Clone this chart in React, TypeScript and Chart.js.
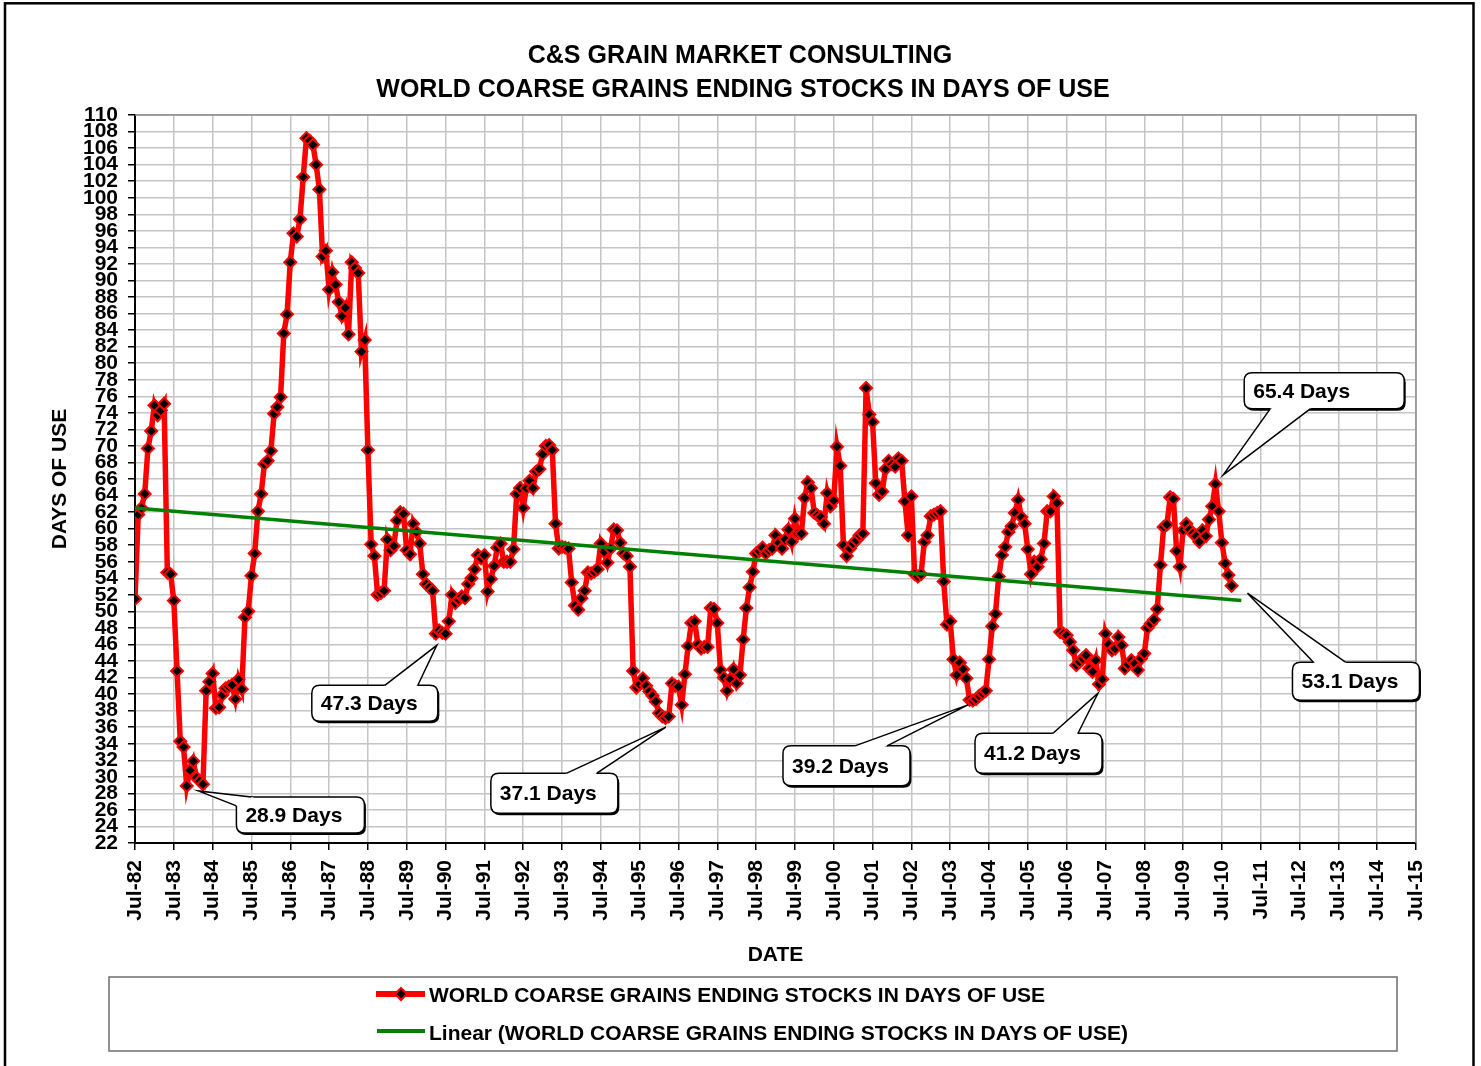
import React, { useEffect, useRef } from 'react';
import { Chart, registerables } from 'chart.js';

Chart.register(...registerables);

// ---------- text ----------
const TITLE_LINE_1 = 'C&S GRAIN MARKET CONSULTING';
const TITLE_LINE_2 = 'WORLD COARSE GRAINS ENDING STOCKS IN DAYS OF USE';
const SERIES_LABEL = 'WORLD COARSE GRAINS ENDING STOCKS IN DAYS OF USE';
const TREND_LABEL = 'Linear (WORLD COARSE GRAINS ENDING STOCKS IN DAYS OF USE)';
const Y_TITLE = 'DAYS OF USE';
const X_TITLE = 'DATE';

// ---------- axes ----------
const xTickLabels = [
  'Jul-82', 'Jul-83', 'Jul-84', 'Jul-85', 'Jul-86', 'Jul-87', 'Jul-88', 'Jul-89', 'Jul-90',
  'Jul-91', 'Jul-92', 'Jul-93', 'Jul-94', 'Jul-95', 'Jul-96', 'Jul-97', 'Jul-98', 'Jul-99',
  'Jul-00', 'Jul-01', 'Jul-02', 'Jul-03', 'Jul-04', 'Jul-05', 'Jul-06', 'Jul-07', 'Jul-08',
  'Jul-09', 'Jul-10', 'Jul-11', 'Jul-12', 'Jul-13', 'Jul-14', 'Jul-15',
];
const MONTHS_PER_TICK = 12;
const Y_MIN = 22;
const Y_MAX = 110;
const Y_STEP = 2;
const TREND_FORWARD_MONTHS = 3;

// ---------- monthly series (days of use), starting Jul-82 ----------
const daysJul82toJun85 = [
  51.5, 61.7, 62.5, 64.2, 69.7, 71.8, 74.9, 73.7, 74.3, 75.1, 54.7, 54.5,
  51.3, 42.8, 34.3, 33.6, 28.9, 30.8, 31.9, 29.9, 29.5, 29.1, 40.4, 41.5,
  42.5, 38.3, 38.4, 39.9, 40.7, 40.9, 41.1, 39.4, 41.8, 40.6, 49.3, 50.0,
];
const daysJul85toJun88 = [
  54.3, 57.0, 62.1, 64.2, 67.8, 68.2, 69.4, 73.9, 74.7, 75.9, 83.6, 85.9,
  92.2, 95.7, 95.3, 97.4, 102.5, 107.2, 106.9, 106.4, 104.0, 101.0, 92.9, 93.6,
  88.9, 91.0, 89.5, 87.4, 85.7, 86.7, 83.5, 92.2, 91.5, 90.9, 81.4, 82.8,
];
const daysJul88toJun91 = [
  69.5, 58.1, 56.7, 52.0, 52.2, 52.5, 58.7, 57.4, 57.9, 61.0, 62.0, 61.8,
  57.4, 56.9, 60.6, 59.6, 58.2, 54.5, 53.3, 52.9, 52.5, 47.3, 47.7, 47.4,
  47.3, 48.8, 52.0, 51.0, 51.4, 51.8, 51.6, 53.3, 54.0, 55.1, 56.8, 56.4,
];
const daysJul91toJun94 = [
  56.8, 52.4, 53.9, 55.5, 57.7, 58.2, 56.0, 56.0, 56.0, 57.5, 64.2, 64.9,
  62.5, 64.9, 65.8, 64.9, 66.9, 67.2, 69.0, 70.0, 70.1, 69.5, 60.6, 57.6,
  57.8, 57.7, 57.6, 53.5, 50.7, 50.2, 51.6, 52.5, 54.7, 54.6, 54.8, 55.1,
];
const daysJul94toJun97 = [
  58.2, 57.2, 55.9, 57.6, 59.9, 59.8, 58.3, 57.0, 56.7, 55.4, 42.8, 40.8,
  41.2, 41.9, 41.0, 40.3, 39.8, 39.1, 37.7, 37.3, 37.1, 37.3, 41.3, 41.0,
  40.9, 38.7, 42.4, 45.8, 48.6, 48.8, 46.0, 45.5, 45.7, 45.7, 50.4, 50.3,
];
const daysJul97toJun00 = [
  48.6, 42.9, 42.0, 40.4, 41.8, 43.0, 41.3, 42.3, 46.6, 50.4, 52.9, 54.8,
  57.0, 57.3, 57.7, 57.0, 57.4, 57.6, 59.2, 58.3, 57.6, 58.7, 59.9, 58.4,
  61.2, 59.4, 59.4, 63.7, 65.6, 64.9, 61.9, 61.6, 61.4, 60.6, 64.3, 62.7,
];
const daysJul00toJun03 = [
  63.4, 69.9, 67.6, 58.0, 56.7, 57.6, 58.2, 58.6, 59.2, 59.4, 77.0, 73.8,
  72.9, 65.5, 64.1, 64.5, 67.2, 68.2, 67.8, 67.5, 68.5, 68.2, 63.3, 59.2,
  63.9, 54.5, 54.2, 54.5, 58.4, 59.2, 61.5, 61.7, 61.9, 62.1, 53.6, 48.4,
];
const daysJul03toJun06 = [
  48.8, 44.2, 42.3, 43.8, 43.0, 41.9, 39.3, 39.2, 39.4, 39.8, 40.1, 40.4,
  44.2, 48.2, 49.7, 54.2, 56.8, 57.8, 59.6, 60.3, 61.9, 63.5, 61.4, 60.6,
  57.5, 54.5, 56.0, 55.4, 56.3, 58.2, 62.1, 62.1, 63.9, 63.1, 47.5, 47.3,
];
const daysJul06toJun09 = [
  47.1, 46.3, 45.3, 43.5, 43.9, 44.3, 44.7, 43.1, 42.7, 44.1, 41.2, 41.8,
  47.3, 46.0, 45.3, 45.5, 46.9, 45.9, 43.1, 43.6, 44.1, 43.7, 42.9, 44.3,
  44.9, 48.0, 48.5, 49.0, 50.3, 55.6, 60.2, 60.5, 63.8, 63.6, 57.3, 55.4,
];
const daysJul09toOct10 = [
  59.8, 60.6, 59.9, 59.4, 59.1, 58.4, 59.8, 59.1, 61.1, 62.7, 65.4, 62.1,
  58.3, 55.8, 54.4, 53.1,
];

// ---------- callouts: text + anchor (month index, value) ----------
const calloutTexts = ['28.9 Days', '47.3 Days', '37.1 Days', '39.2 Days', '41.2 Days', '65.4 Days', '53.1 Days'];
const calloutAnchorMonth = [19.6, 93.3, 164.1, 257.5, 297.7, 336.4, 343.9];
const calloutAnchorValue = [28.3, 45.9, 36.0, 38.7, 40.1, 66.5, 52.2];

// callout box geometry (pixels, relative to the anchor) — style only
const calloutGeom = [
  { dx: 38, dy: 6, w: 128, h: 36, b1: [0, 9], b2: [15, 0] },
  { dx: -125, dy: 40, w: 126, h: 36, b1: [73, 0], b2: [106, 0] },
  { dx: -175, dy: 46, w: 127, h: 40, b1: [76, 0], b2: [106, 0] },
  { dx: -185, dy: 41, w: 127, h: 40, b1: [72, 0], b2: [104, 0] },
  { dx: -123, dy: 40, w: 127, h: 40, b1: [78, 0], b2: [103, 0] },
  { dx: 21, dy: -102, w: 160, h: 36, b1: [26, 36], b2: [66, 36] },
  { dx: 45, dy: 69, w: 127, h: 38, b1: [21, 0], b2: [53, 0] },
];

const FONT = '"Liberation Sans", Arial, Helvetica, sans-serif';
const W = 1481;
const H = 1066;

function roundRectPath(ctx: CanvasRenderingContext2D, x: number, y: number, w: number, h: number, r: number) {
  ctx.beginPath();
  ctx.moveTo(x + r, y);
  ctx.lineTo(x + w - r, y);
  ctx.quadraticCurveTo(x + w, y, x + w, y + r);
  ctx.lineTo(x + w, y + h - r);
  ctx.quadraticCurveTo(x + w, y + h, x + w - r, y + h);
  ctx.lineTo(x + r, y + h);
  ctx.quadraticCurveTo(x, y + h, x, y + h - r);
  ctx.lineTo(x, y + r);
  ctx.quadraticCurveTo(x, y, x + r, y);
  ctx.closePath();
}

function drawCallout(ctx: CanvasRenderingContext2D, tipX: number, tipY: number, text: string, g: any) {
  const bx = tipX + g.dx;
  const by = tipY + g.dy;
  const r = 8;
  ctx.fillStyle = '#000';
  roundRectPath(ctx, bx + 1.5, by + 2, g.w, g.h, r);
  ctx.fill();
  ctx.fillStyle = '#fff';
  roundRectPath(ctx, bx, by, g.w, g.h, r);
  ctx.fill();
  ctx.strokeStyle = '#000';
  ctx.lineWidth = 1.5;
  ctx.stroke();
  const cx = bx + g.w / 2;
  const cy = by + g.h / 2;
  const p1 = [bx + g.b1[0], by + g.b1[1]];
  const p2 = [bx + g.b2[0], by + g.b2[1]];
  const inward = (p: number[]) => {
    const vx = cx - p[0];
    const vy = cy - p[1];
    const len = Math.hypot(vx, vy) || 1;
    return [p[0] + (vx / len) * 4, p[1] + (vy / len) * 4];
  };
  const p1i = inward(p1);
  const p2i = inward(p2);
  ctx.beginPath();
  ctx.moveTo(p1i[0], p1i[1]);
  ctx.lineTo(p1[0], p1[1]);
  ctx.lineTo(tipX, tipY);
  ctx.lineTo(p2[0], p2[1]);
  ctx.lineTo(p2i[0], p2i[1]);
  ctx.closePath();
  ctx.fillStyle = '#fff';
  ctx.fill();
  ctx.beginPath();
  ctx.moveTo(p1[0], p1[1]);
  ctx.lineTo(tipX, tipY);
  ctx.lineTo(p2[0], p2[1]);
  ctx.strokeStyle = '#000';
  ctx.lineWidth = 1.5;
  ctx.stroke();
  ctx.fillStyle = '#000';
  ctx.font = `bold 21px ${FONT}`;
  ctx.textAlign = 'left';
  ctx.textBaseline = 'middle';
  ctx.fillText(text, bx + 9, by + g.h / 2 + 1);
}

const overlayPlugin = {
  id: 'overlay',
  beforeDraw(chart: any) {
    const ctx = chart.ctx as CanvasRenderingContext2D;
    ctx.save();
    ctx.fillStyle = '#fff';
    ctx.fillRect(0, 0, chart.width, chart.height);
    ctx.restore();
  },
  beforeDatasetsDraw(chart: any) {
    const ctx = chart.ctx as CanvasRenderingContext2D;
    const { left, right, top, bottom } = chart.chartArea;
    ctx.save();
    ctx.strokeStyle = '#8c8c8c';
    ctx.lineWidth = 1.5;
    ctx.beginPath();
    ctx.moveTo(left, top);
    ctx.lineTo(right, top);
    ctx.lineTo(right, bottom);
    ctx.stroke();
    ctx.restore();
  },
  afterDraw(chart: any) {
    const ctx = chart.ctx as CanvasRenderingContext2D;
    const { left, right, top, bottom } = chart.chartArea;
    const xs = chart.scales.x;
    const ys = chart.scales.y;
    ctx.save();

    ctx.fillStyle = '#000';
    ctx.textAlign = 'center';
    ctx.textBaseline = 'alphabetic';
    ctx.font = `bold 25px ${FONT}`;
    ctx.fillText(TITLE_LINE_1, 740, 63);
    ctx.fillText(TITLE_LINE_2, 743, 96.5);

    ctx.font = `bold 21px ${FONT}`;
    ctx.fillText(X_TITLE, (left + right) / 2, 960.5);
    ctx.save();
    ctx.translate(60.5, (top + bottom) / 2);
    ctx.rotate(-Math.PI / 2);
    ctx.textBaseline = 'middle';
    ctx.fillText(Y_TITLE, 0, 0);
    ctx.restore();

    // legend
    ctx.strokeStyle = '#6e6e6e';
    ctx.lineWidth = 1.5;
    ctx.strokeRect(109, 977, 1288, 74);
    ctx.lineCap = 'butt';
    ctx.strokeStyle = '#ff0000';
    ctx.lineWidth = 6;
    ctx.beginPath();
    ctx.moveTo(376, 994);
    ctx.lineTo(425, 994);
    ctx.stroke();
    ctx.beginPath();
    ctx.moveTo(401 - 6, 994);
    ctx.lineTo(401, 994 - 6);
    ctx.lineTo(401 + 6, 994);
    ctx.lineTo(401, 994 + 6);
    ctx.closePath();
    ctx.fillStyle = '#000';
    ctx.fill();
    ctx.strokeStyle = '#ff0000';
    ctx.lineWidth = 2;
    ctx.stroke();
    ctx.strokeStyle = '#008000';
    ctx.lineWidth = 4;
    ctx.beginPath();
    ctx.moveTo(377, 1031);
    ctx.lineTo(425, 1031);
    ctx.stroke();
    ctx.fillStyle = '#000';
    ctx.textAlign = 'left';
    ctx.textBaseline = 'alphabetic';
    ctx.font = `bold 21px ${FONT}`;
    ctx.fillText(SERIES_LABEL, 429, 1002);
    ctx.fillText(TREND_LABEL, 429, 1039.5);

    for (let i = 0; i < calloutTexts.length; i++) {
      const tx = xs.getPixelForValue(calloutAnchorMonth[i]);
      const ty = ys.getPixelForValue(calloutAnchorValue[i]);
      drawCallout(ctx, tx, ty, calloutTexts[i], calloutGeom[i]);
    }

    ctx.strokeStyle = '#000';
    ctx.lineWidth = 2.5;
    ctx.strokeRect(5, 3.3, 1468.5, 1080);

    ctx.restore();
  },
};

export default function App() {
  const canvasRef = useRef<HTMLCanvasElement>(null);

  useEffect(() => {
    const canvas = canvasRef.current;
    if (!canvas) return;
    const values = [
      ...daysJul82toJun85, ...daysJul85toJun88, ...daysJul88toJun91, ...daysJul91toJun94,
      ...daysJul94toJun97, ...daysJul97toJun00, ...daysJul00toJun03, ...daysJul03toJun06,
      ...daysJul06toJun09, ...daysJul09toOct10,
    ];
    const n = values.length;
    let sx = 0, sy = 0, sxx = 0, sxy = 0;
    values.forEach((v, i) => { sx += i; sy += v; sxx += i * i; sxy += i * v; });
    const slope = (n * sxy - sx * sy) / (n * sxx - sx * sx);
    const intercept = (sy - slope * sx) / n;
    const trendEnd = n - 1 + TREND_FORWARD_MONTHS;

    const xMax = (xTickLabels.length - 1) * MONTHS_PER_TICK;
    const tickFont = { family: FONT, size: 21, weight: 'bold' as const };

    const chart = new Chart(canvas, {
      type: 'line',
      data: {
        datasets: [
          {
            label: TREND_LABEL,
            data: [{ x: 0, y: intercept }, { x: trendEnd, y: intercept + slope * trendEnd }],
            borderColor: '#008000',
            borderWidth: 3.5,
            pointRadius: 0,
            tension: 0,
            order: 0,
          },
          {
            label: SERIES_LABEL,
            data: values.map((v, i) => ({ x: i, y: v })),
            borderColor: '#ff0000',
            borderWidth: 5.5,
            borderJoinStyle: 'miter',
            tension: 0,
            pointStyle: 'rectRot',
            pointRadius: 6,
            pointBorderWidth: 2,
            pointBackgroundColor: '#000',
            pointBorderColor: '#ff0000',
            order: 1,
          },
        ],
      },
      options: {
        responsive: false,
        animation: false,
        devicePixelRatio: 1,
        layout: { padding: { left: 0, top: 115, right: 65, bottom: 123 }, autoPadding: false },
        plugins: {
          legend: { display: false },
          title: { display: false },
          tooltip: { enabled: false },
        },
        scales: {
          x: {
            type: 'linear',
            min: 0,
            max: xMax,
            afterFit: (s: any) => { s.height = 100; },
            ticks: {
              stepSize: MONTHS_PER_TICK,
              autoSkip: false,
              minRotation: 90,
              maxRotation: 90,
              padding: 10,
              color: '#000',
              font: tickFont,
              callback: (v: any) => xTickLabels[Math.round(Number(v) / MONTHS_PER_TICK)],
            },
            grid: { color: '#c4c4c4', lineWidth: 1.5, tickLength: 7, tickColor: '#000', tickWidth: 1.5 },
            border: { color: '#000', width: 2 },
          },
          y: {
            type: 'linear',
            min: Y_MIN,
            max: Y_MAX,
            afterFit: (s: any) => { s.width = 135; },
            ticks: {
              stepSize: Y_STEP,
              autoSkip: false,
              padding: 10,
              color: '#000',
              font: tickFont,
            },
            grid: { color: '#c4c4c4', lineWidth: 1.5, tickLength: 7, tickColor: '#000', tickWidth: 1.5 },
            border: { color: '#000', width: 2 },
          },
        },
      } as any,
      plugins: [overlayPlugin],
    });
    return () => chart.destroy();
  }, []);

  return (
    <div style={{ position: 'absolute', left: 0, top: 0, width: W, height: H, background: '#fff' }}>
      <canvas ref={canvasRef} width={W} height={H} style={{ display: 'block' }} />
    </div>
  );
}
